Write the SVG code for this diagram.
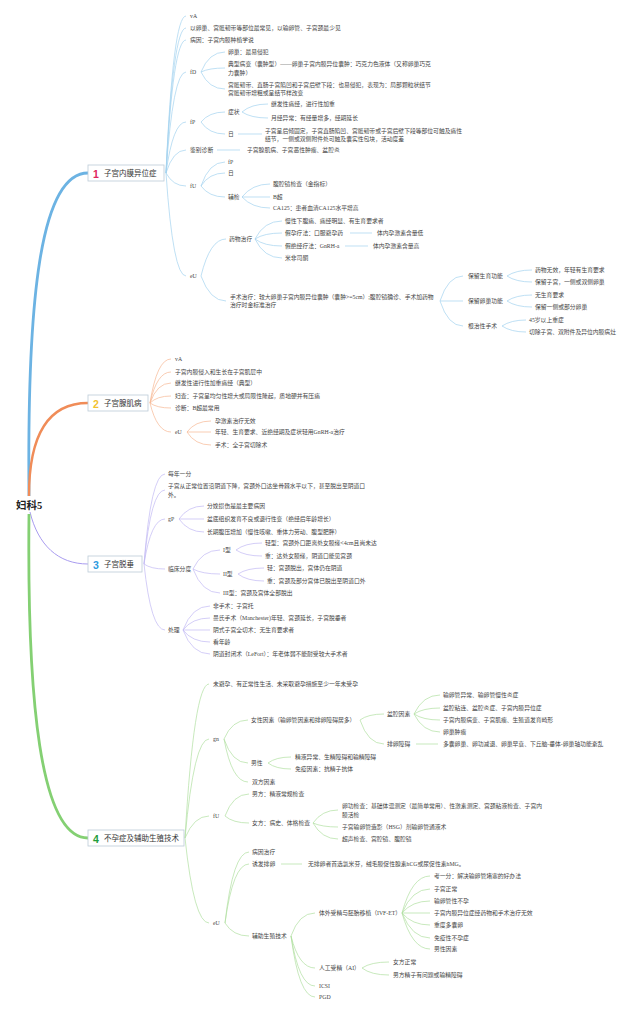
<svg xmlns="http://www.w3.org/2000/svg" width="640" height="1012" viewBox="0 0 640 1012">
<style>
text{font-family:"Liberation Serif","Noto Sans CJK SC",serif;fill:#444;dominant-baseline:central}
.t{font-size:5.8px}
.b{font-size:7.5px;fill:#333;font-family:"Liberation Sans","Noto Sans CJK SC",sans-serif}
.num{font-size:10.5px;font-weight:bold;font-family:"Liberation Sans",sans-serif}
.root{font-size:10.5px;font-weight:bold;fill:#222}
.box{fill:#fff;stroke:#bccbd8;stroke-width:0.8}
#connectors path{fill:none}
.s1{stroke:#a3d2ef;stroke-width:0.7}
.s2{stroke:#f6b894;stroke-width:0.7}
.s3{stroke:#c2b9f3;stroke-width:0.7}
.s4{stroke:#b0e0a0;stroke-width:0.7}
</style>
<rect width="640" height="1012" fill="#fff"/>
<g id="connectors">
<path d="M29 496 C27 300 40 173 88 173" stroke="#6cb3e3" stroke-width="2.8"/>
<path d="M29 496 C29 432 50 403 88 403" stroke="#f08c58" stroke-width="2.4"/>
<path d="M30 512 C38 545 58 564 88 564" stroke="#a99cf0" stroke-width="1"/>
<path d="M29 514 C27 700 40 838 88 838" stroke="#84d073" stroke-width="2.8"/>
<g class="s1">
<path d="M166 173 Q173 16 186 16"/><path d="M166 173 Q173 28 186 28"/><path d="M166 173 Q173 40 186 40"/><path d="M166 173 Q173 72 186 72"/><path d="M166 173 Q173 122 186 122"/><path d="M166 173 Q173 150 186 150"/><path d="M166 173 Q173 186 186 186"/><path d="M166 173 Q173 276 186 276"/>
<path d="M201 72 Q209 52 225 52"/><path d="M201 72 Q209 68 225 68"/><path d="M201 72 Q209 89 225 89"/>
<path d="M201 122 Q209 112 225 112"/><path d="M201 122 Q209 134 225 134"/>
<path d="M242 112 Q251 104 268 104"/><path d="M242 112 Q251 118 268 118"/>
<path d="M238 134 L262 134"/>
<path d="M217 150 L240 150"/>
<path d="M201 186 Q209 162 225 162"/><path d="M201 186 Q209 173 225 173"/><path d="M201 186 Q209 197 225 197"/>
<path d="M242 197 Q252 184 270 184"/><path d="M242 197 L270 197"/><path d="M242 197 Q252 208 270 208"/>
<path d="M201 276 Q210 239 226 239"/><path d="M201 276 Q210 301 226 301"/>
<path d="M255 239 Q264 221 282 221"/><path d="M255 239 Q264 233 282 233"/><path d="M255 239 Q264 246 282 246"/><path d="M255 239 Q264 258 282 258"/>
<path d="M350 233 L372 233"/><path d="M345 246 L368 246"/>
<path d="M440 301 Q448 276 463 276"/><path d="M440 301 L463 301"/><path d="M440 301 Q448 326 463 326"/>
<path d="M507 276 Q516 270 532 270"/><path d="M507 276 Q516 282 532 282"/>
<path d="M507 301 Q516 295 532 295"/><path d="M507 301 Q516 307 532 307"/>
<path d="M502 326 Q511 320 526 320"/><path d="M502 326 Q511 332 526 332"/>
</g>
<g class="s2">
<path d="M150 403 Q157 359 171 359"/><path d="M150 403 Q157 372 171 372"/><path d="M150 403 Q157 383 171 383"/><path d="M150 403 Q157 396 171 396"/><path d="M150 403 Q157 408 171 408"/><path d="M150 403 Q157 432 171 432"/>
<path d="M187 432 Q195 421 211 421"/><path d="M187 432 L211 432"/><path d="M187 432 Q195 445 211 445"/>
</g>
<g class="s3">
<path d="M144 564 Q151 474 165 474"/><path d="M144 564 Q151 490 165 490"/><path d="M144 564 Q151 519 165 519"/><path d="M144 564 Q151 569 165 569"/><path d="M144 564 Q151 630 165 630"/>
<path d="M179 519 Q188 506 204 506"/><path d="M179 519 L204 519"/><path d="M179 519 Q188 532 204 532"/>
<path d="M193 569 Q202 550 220 550"/><path d="M193 569 Q202 574 220 574"/><path d="M193 569 Q202 593 220 593"/>
<path d="M236 550 Q245 543 262 543"/><path d="M236 550 Q245 556 262 556"/>
<path d="M238 574 Q247 568 264 568"/><path d="M238 574 Q247 581 264 581"/>
<path d="M183 630 Q192 606 210 606"/><path d="M183 630 Q192 618 210 618"/><path d="M183 630 L210 630"/><path d="M183 630 Q192 642 210 642"/><path d="M183 630 Q192 654 210 654"/>
</g>
<g class="s4">
<path d="M185 838 Q194 684 209 684"/><path d="M185 838 Q194 739 209 739"/><path d="M185 838 Q194 816 209 816"/><path d="M185 838 Q194 923 209 923"/>
<path d="M224 739 Q232 720 248 720"/><path d="M224 739 Q232 763 248 763"/><path d="M224 739 Q232 782 248 782"/>
<path d="M360 720 Q368 714 384 714"/><path d="M360 720 Q368 744 384 744"/>
<path d="M414 714 Q423 695 440 695"/><path d="M414 714 Q423 708 440 708"/><path d="M414 714 Q423 720 440 720"/><path d="M414 714 Q423 732 440 732"/>
<path d="M416 744 L438 744"/>
<path d="M268 763 Q276 757 291 757"/><path d="M268 763 Q276 769 291 769"/>
<path d="M225 816 Q233 794 249 794"/><path d="M225 816 Q233 823 249 823"/>
<path d="M313 823 Q322 810 338 810"/><path d="M313 823 Q322 827 338 827"/><path d="M313 823 Q322 839 338 839"/>
<path d="M225 923 Q233 852 249 852"/><path d="M225 923 Q233 864 249 864"/><path d="M225 923 Q233 936 249 936"/>
<path d="M281 864 L302 864"/>
<path d="M291 936 Q299 913 315 913"/><path d="M291 936 Q299 968 315 968"/><path d="M291 936 Q299 986 315 986"/><path d="M291 936 Q299 997 315 997"/>
<path d="M402 913 Q412 876 430 876"/><path d="M402 913 Q412 889 430 889"/><path d="M402 913 Q412 901 430 901"/><path d="M402 913 L430 913"/><path d="M402 913 Q412 925 430 925"/><path d="M402 913 Q412 938 430 938"/><path d="M402 913 Q412 949 430 949"/>
<path d="M362 968 Q371 962 389 962"/><path d="M362 968 Q371 975 389 975"/>
</g>
</g>
<g id="root"><text class="root" x="16" y="505">妇科5</text></g>
<g id="b1"><rect class="box" x="88" y="165" width="76" height="16"/><text class="num" x="93" y="173.5" style="fill:#e0245e">1</text><text class="b" x="104" y="173">子宫内膜异位症</text></g>
<g id="b2"><rect class="box" x="88" y="395" width="60" height="16"/><text class="num" x="93" y="403.5" style="fill:#f2c230">2</text><text class="b" x="104" y="403">子宫腺肌病</text></g>
<g id="b3"><rect class="box" x="88" y="556" width="54" height="16"/><text class="num" x="93" y="564.5" style="fill:#2f9be0">3</text><text class="b" x="104" y="564">子宫脱垂</text></g>
<g id="b4"><rect class="box" x="88" y="830" width="96" height="16"/><text class="num" x="93" y="838.5" style="fill:#1f9e3a">4</text><text class="b" x="104" y="838">不孕症及辅助生殖技术</text></g>
<g id="s1nodes">
<g id="n1_1"><text class="t" x="190" y="16">vA</text></g>
<g id="n1_2"><text class="t" x="190" y="28">以卵巢、宫骶韧带等部位最常见，以输卵管、子宫颈最少见</text></g>
<g id="n1_3"><text class="t" x="190" y="40">病因：子宫内膜种植学说</text></g>
<g id="n1_4"><text class="t" x="190" y="72">fD</text></g>
<g id="n1_4a"><text class="t" x="228" y="52">卵巢：最易侵犯</text></g>
<g id="n1_4b"><text class="t" x="228" y="64">典型病变（囊肿型）——卵巢子宫内膜异位囊肿：巧克力色液体（又称卵巢巧克</text><text class="t" x="228" y="73">力囊肿）</text></g>
<g id="n1_4c"><text class="t" x="228" y="85">宫骶韧带、直肠子宫陷凹和子宫后壁下段：也易侵犯，表现为：局部颗粒状结节</text><text class="t" x="228" y="93">宫骶韧带增粗或呈结节样改变</text></g>
<g id="n1_5"><text class="t" x="190" y="122">fP</text></g>
<g id="n1_5a"><text class="t" x="228" y="112">症状</text></g>
<g id="n1_5a1"><text class="t" x="271" y="104">继发性痛经，进行性加重</text></g>
<g id="n1_5a2"><text class="t" x="271" y="118">月经异常：有经量增多，经期延长</text></g>
<g id="n1_5b"><text class="t" x="228" y="134">日</text></g>
<g id="n1_5b1"><text class="t" x="265" y="130.5">子宫呈后倾固定，子宫直肠陷凹、宫骶韧带或子宫后壁下段等部位可触及痛性</text><text class="t" x="265" y="138.5">结节，一侧或双侧附件处可触及囊实性包块，活动度差</text></g>
<g id="n1_6"><text class="t" x="190" y="150">鉴别诊断</text></g>
<g id="n1_6a"><text class="t" x="247" y="150">子宫腺肌病、子宫恶性肿瘤、盆腔炎</text></g>
<g id="n1_7"><text class="t" x="190" y="186">fU</text></g>
<g id="n1_7a"><text class="t" x="228" y="162">fP</text></g>
<g id="n1_7b"><text class="t" x="228" y="173">日</text></g>
<g id="n1_7c"><text class="t" x="228" y="197">辅检</text></g>
<g id="n1_7c1"><text class="t" x="273" y="184">腹腔镜检查（金指标）</text></g>
<g id="n1_7c2"><text class="t" x="273" y="197">B超</text></g>
<g id="n1_7c3"><text class="t" x="273" y="208">CA125：患者血清CA125水平增高</text></g>
<g id="n1_8"><text class="t" x="190" y="276">eU</text></g>
<g id="n1_8a"><text class="t" x="229" y="239">药物治疗</text></g>
<g id="n1_8a1"><text class="t" x="285" y="221">慢性下腹痛、痛经明显、有生育要求者</text></g>
<g id="n1_8a2"><text class="t" x="285" y="233">假孕疗法：口服避孕药</text></g>
<g id="n1_8a2a"><text class="t" x="377" y="233">体内孕激素含量低</text></g>
<g id="n1_8a3"><text class="t" x="285" y="246">假绝经疗法：GnRH-a</text></g>
<g id="n1_8a3a"><text class="t" x="373" y="246">体内孕激素含量高</text></g>
<g id="n1_8a4"><text class="t" x="285" y="258">米非司酮</text></g>
<g id="n1_8b"><text class="t" x="230" y="297">手术治疗：较大卵巢子宫内膜异位囊肿（囊肿&gt;=5cm）;腹腔镜确诊、手术加药物</text><text class="t" x="230" y="305">治疗时金标准治疗</text></g>
<g id="n1_8b1"><text class="t" x="468" y="276">保留生育功能</text></g>
<g id="n1_8b1a"><text class="t" x="535" y="270">药物无效，年轻有生育要求</text></g>
<g id="n1_8b1b"><text class="t" x="535" y="282">保留子宫，一侧或双侧卵巢</text></g>
<g id="n1_8b2"><text class="t" x="468" y="301">保留卵巢功能</text></g>
<g id="n1_8b2a"><text class="t" x="535" y="295">无生育要求</text></g>
<g id="n1_8b2b"><text class="t" x="535" y="307">保留一侧或部分卵巢</text></g>
<g id="n1_8b3"><text class="t" x="468" y="326">根治性手术</text></g>
<g id="n1_8b3a"><text class="t" x="529" y="320">45岁以上重症</text></g>
<g id="n1_8b3b"><text class="t" x="529" y="332">切除子宫、双附件及异位内膜病灶</text></g>
</g>
<g id="s2nodes">
<g id="n2_1"><text class="t" x="175" y="359">vA</text></g>
<g id="n2_2"><text class="t" x="175" y="372">子宫内膜侵入和生长在子宫肌层中</text></g>
<g id="n2_3"><text class="t" x="175" y="383">继发性进行性加重痛经（典型）</text></g>
<g id="n2_4"><text class="t" x="175" y="396">妇查：子宫呈均匀性增大或局限性隆起，质地硬并有压痛</text></g>
<g id="n2_5"><text class="t" x="175" y="408">诊断：B超最常用</text></g>
<g id="n2_6"><text class="t" x="175" y="432">eU</text></g>
<g id="n2_6a"><text class="t" x="215" y="421">孕激素治疗无效</text></g>
<g id="n2_6b"><text class="t" x="215" y="432">年轻、生育要求、近绝经期及症状轻用GnRH-a治疗</text></g>
<g id="n2_6c"><text class="t" x="215" y="445">手术：全子宫切除术</text></g>
</g>
<g id="s3nodes">
<g id="n3_1"><text class="t" x="168" y="474">每年一分</text></g>
<g id="n3_2"><text class="t" x="168" y="486">子宫从正常位置沿阴道下降，宫颈外口达坐骨棘水平以下，甚至脱出至阴道口</text><text class="t" x="168" y="495">外。</text></g>
<g id="n3_3"><text class="t" x="168" y="519">gP</text></g>
<g id="n3_3a"><text class="t" x="207" y="506">分娩损伤是最主要病因</text></g>
<g id="n3_3b"><text class="t" x="207" y="519">盆底组织发育不良或退行性变（绝经后年龄增长）</text></g>
<g id="n3_3c"><text class="t" x="207" y="532">长期腹压增加（慢性咳嗽、重体力劳动、腹型肥胖）</text></g>
<g id="n3_4"><text class="t" x="168" y="569">临床分度</text></g>
<g id="n3_4a"><text class="t" x="223" y="550">I型</text></g>
<g id="n3_4a1"><text class="t" x="265" y="543">轻型：宫颈外口距离处女膜缘&lt;4cm且尚未达</text></g>
<g id="n3_4a2"><text class="t" x="265" y="556">重：达处女膜缘，阴道口能见宫颈</text></g>
<g id="n3_4b"><text class="t" x="223" y="574">II型</text></g>
<g id="n3_4b1"><text class="t" x="267" y="568">轻：宫颈脱出，宫体仍在阴道</text></g>
<g id="n3_4b2"><text class="t" x="267" y="581">重：宫颈及部分宫体已脱出至阴道口外</text></g>
<g id="n3_4c"><text class="t" x="223" y="593">III型：宫颈及宫体全部脱出</text></g>
<g id="n3_5"><text class="t" x="168" y="630">处理</text></g>
<g id="n3_5a"><text class="t" x="213" y="606">非手术：子宫托</text></g>
<g id="n3_5b"><text class="t" x="213" y="618">曼氏手术（Manchester)年轻、宫颈延长，子宫脱垂者</text></g>
<g id="n3_5c"><text class="t" x="213" y="630">阴式子宫全切术：无生育要求者</text></g>
<g id="n3_5d"><text class="t" x="213" y="642">看年龄</text></g>
<g id="n3_5e"><text class="t" x="213" y="654">阴道封闭术（LeFort）：年老体弱不能耐受较大手术者</text></g>
</g>
<g id="s4nodes">
<g id="n4_1"><text class="t" x="213" y="684">未避孕、有正常性生活、未采取避孕措施至少一年未受孕</text></g>
<g id="n4_2"><text class="t" x="213" y="739">gn</text></g>
<g id="n4_2a"><text class="t" x="251" y="720">女性因素（输卵管因素和排卵障碍居多）</text></g>
<g id="n4_2a1"><text class="t" x="387" y="714">盆腔因素</text></g>
<g id="n4_2a1a"><text class="t" x="443" y="695">输卵管异常、输卵管慢性炎症</text></g>
<g id="n4_2a1b"><text class="t" x="443" y="708">盆腔粘连、盆腔炎症、子宫内膜异位症</text></g>
<g id="n4_2a1c"><text class="t" x="443" y="720">子宫内膜病变、子宫肌瘤、生殖道发育畸形</text></g>
<g id="n4_2a1d"><text class="t" x="443" y="732">卵巢肿瘤</text></g>
<g id="n4_2a2"><text class="t" x="387" y="744">排卵障碍</text></g>
<g id="n4_2a2a"><text class="t" x="443" y="744">多囊卵巢、卵功减退、卵巢早衰、下丘脑-垂体-卵巢轴功能紊乱</text></g>
<g id="n4_2b"><text class="t" x="251" y="763">男性</text></g>
<g id="n4_2b1"><text class="t" x="295" y="757">精液异常、生精障碍和输精障碍</text></g>
<g id="n4_2b2"><text class="t" x="295" y="769">免疫因素：抗精子抗体</text></g>
<g id="n4_2c"><text class="t" x="252" y="782">双方因素</text></g>
<g id="n4_3"><text class="t" x="213" y="816">fU</text></g>
<g id="n4_3a"><text class="t" x="252" y="794">男方：精液常规检查</text></g>
<g id="n4_3b"><text class="t" x="252" y="823">女方：病史、体格检查</text></g>
<g id="n4_3b1"><text class="t" x="342" y="806">卵功检查：基础体温测定（最简单常用）、性激素测定、宫颈粘液检查、子宫内</text><text class="t" x="342" y="815">膜活检</text></g>
<g id="n4_3b2"><text class="t" x="342" y="827">子宫输卵管造影（HSG）剂输卵管通液术</text></g>
<g id="n4_3b3"><text class="t" x="342" y="839">超声检查、宫腔镜、腹腔镜</text></g>
<g id="n4_4"><text class="t" x="213" y="923">eU</text></g>
<g id="n4_4a"><text class="t" x="252" y="852">病因治疗</text></g>
<g id="n4_4b"><text class="t" x="252" y="864">诱发排卵</text></g>
<g id="n4_4b1"><text class="t" x="308" y="864">无排卵者首选氯米芬，绒毛膜促性腺素hCG或尿促性素hMG。</text></g>
<g id="n4_4c"><text class="t" x="252" y="936">辅助生殖技术</text></g>
<g id="n4_4c1"><text class="t" x="319" y="913">体外受精与胚胎移植（IVF-ET）</text></g>
<g id="n4_4c1a"><text class="t" x="434" y="876">考一分：解决输卵管堵塞的好办法</text></g>
<g id="n4_4c1b"><text class="t" x="434" y="889">子宫正常</text></g>
<g id="n4_4c1c"><text class="t" x="434" y="901">输卵管性不孕</text></g>
<g id="n4_4c1d"><text class="t" x="434" y="913">子宫内膜异位症经药物和手术治疗无效</text></g>
<g id="n4_4c1e"><text class="t" x="434" y="925">重度多囊卵</text></g>
<g id="n4_4c1f"><text class="t" x="434" y="938">免疫性不孕症</text></g>
<g id="n4_4c1g"><text class="t" x="434" y="949">男性因素</text></g>
<g id="n4_4c2"><text class="t" x="319" y="968">人工受精（AI）</text></g>
<g id="n4_4c2a"><text class="t" x="393" y="962">女方正常</text></g>
<g id="n4_4c2b"><text class="t" x="393" y="975">男方精子有问题或输精障碍</text></g>
<g id="n4_4c3"><text class="t" x="319" y="986">ICSI</text></g>
<g id="n4_4c4"><text class="t" x="319" y="997">PGD</text></g>
</g>
</svg>
